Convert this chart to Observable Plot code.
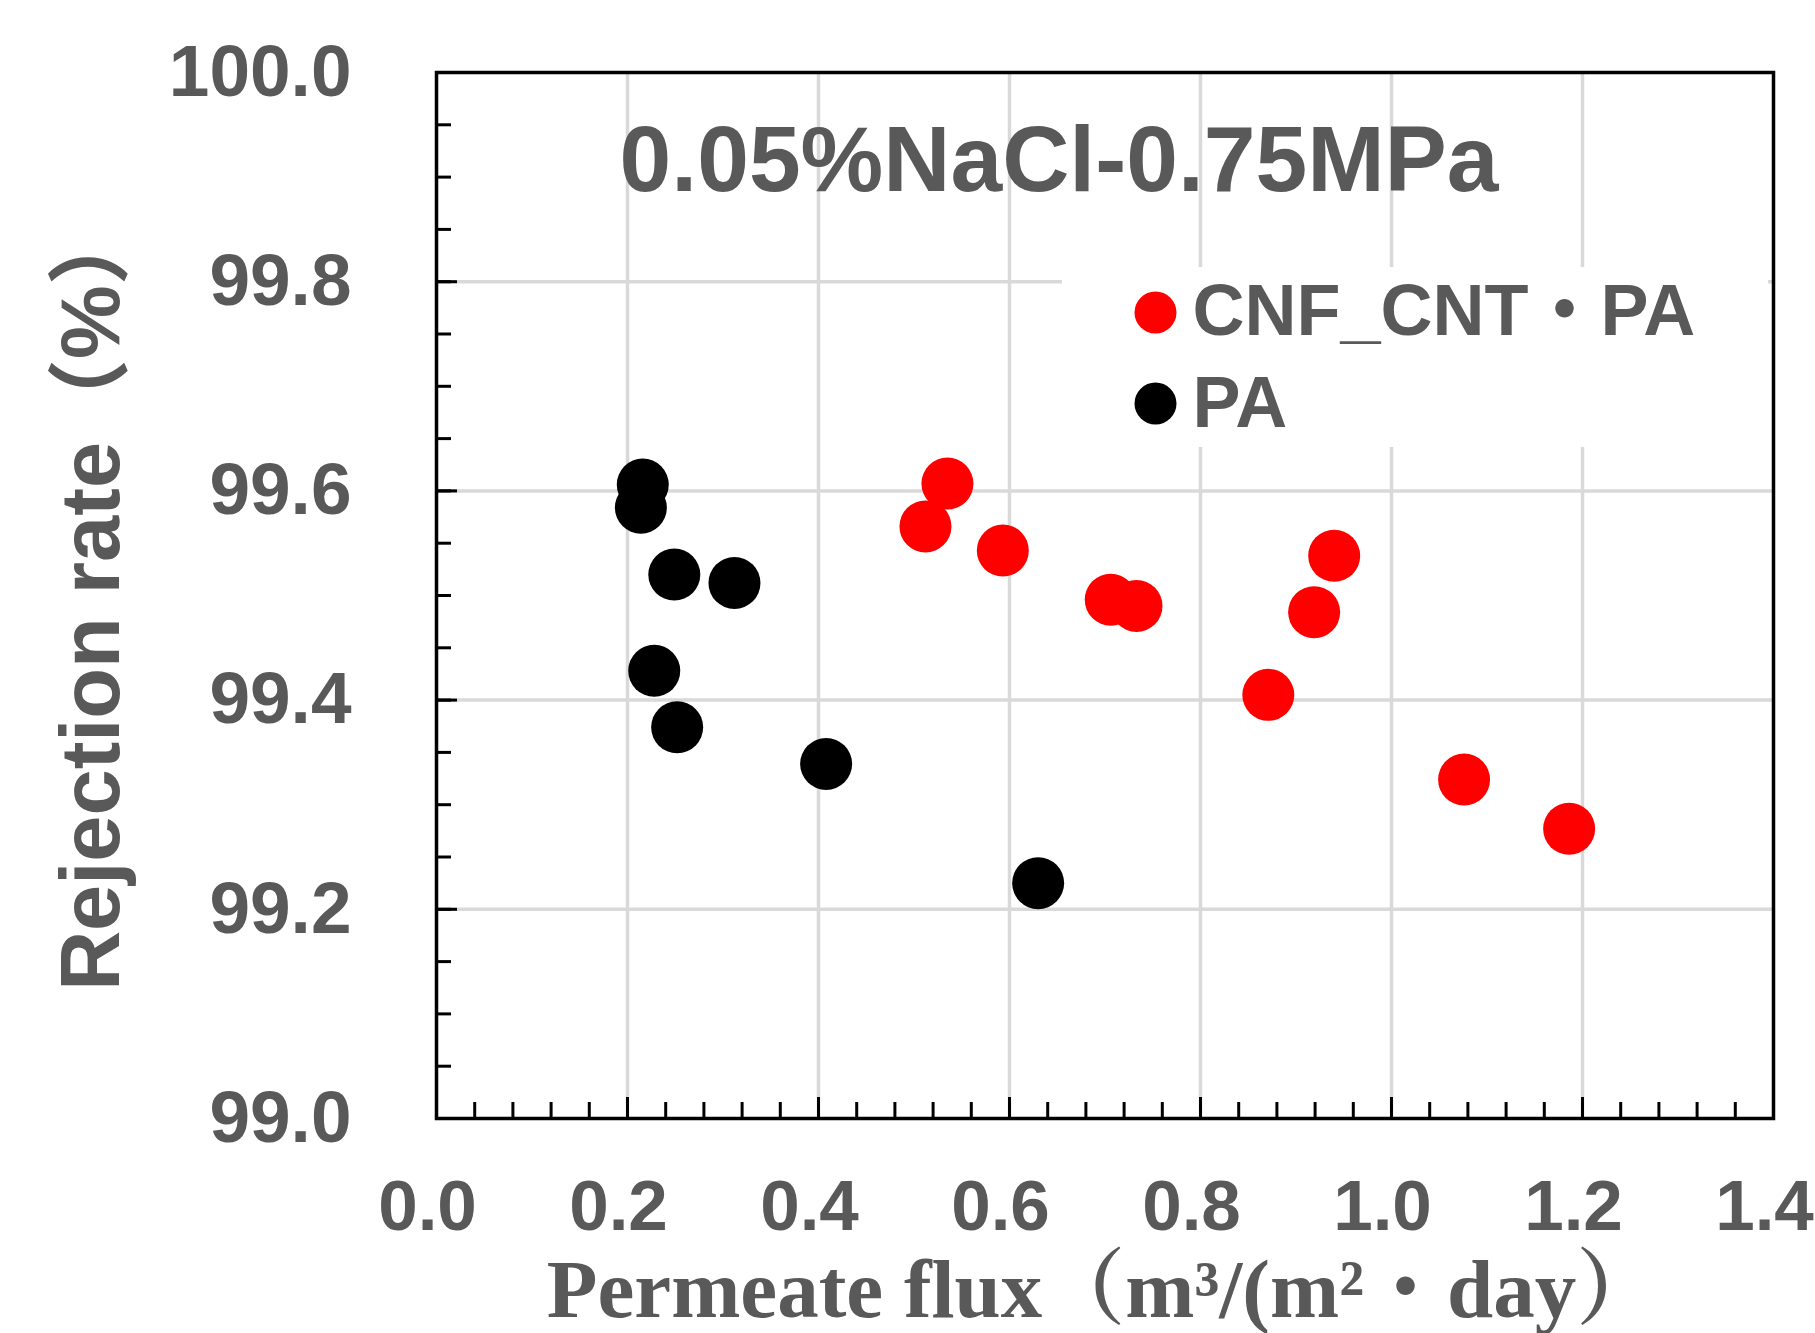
<!DOCTYPE html>
<html>
<head>
<meta charset="utf-8">
<script src="https://cdn.jsdelivr.net/npm/d3@7"></script>
<script src="https://cdn.jsdelivr.net/npm/@observablehq/plot@0.6"></script>
<style>
  html, body { margin: 0; padding: 0; background: #fff; overflow: hidden; }
  #chart svg { display: block; }
</style>
</head>
<body>
<div id="chart"></div>
<script>
// ---- Data ----
const paFlux        = [0.216, 0.214, 0.249, 0.312, 0.228, 0.252, 0.408, 0.630];
const paRejection   = [99.606, 99.584, 99.520, 99.512, 99.428, 99.374, 99.339, 99.225];
const cnfFlux       = [0.535, 0.512, 0.593, 0.706, 0.733, 0.940, 0.919, 0.871, 1.076, 1.186];
const cnfRejection  = [99.607, 99.566, 99.543, 99.496, 99.490, 99.538, 99.484, 99.405, 99.324, 99.277];

const seriesNames   = ["CNF_CNT・PA", "PA"];
const seriesColors  = ["#ff0000", "#000000"];

const xTicks        = [0.0, 0.2, 0.4, 0.6, 0.8, 1.0, 1.2, 1.4];
const yTicks        = [99.0, 99.2, 99.4, 99.6, 99.8, 100.0];
const xGrid         = [0.2, 0.4, 0.6, 0.8, 1.0, 1.2];
const yGrid         = [99.2, 99.4, 99.6, 99.8];
const xMinor        = d3.range(0, 35).map(i => +(i * 0.04).toFixed(2)).filter(v => v > 0 && v < 1.4);
const yMinor        = d3.range(0, 21).map(i => +(99 + i * 0.05).toFixed(2)).filter(v => v > 99 && v < 100);

const titleText     = "0.05%NaCl-0.75MPa";
const xLabel        = "Permeate flux（m³/(m²・day）";
const yLabel        = "Rejection rate（%）";

// ---- Table built from arrays ----
const points = [
  ...cnfFlux.map((x, i) => ({flux: x, rej: cnfRejection[i], series: seriesNames[0]})),
  ...paFlux.map((x, i) => ({flux: x, rej: paRejection[i], series: seriesNames[1]}))
];
const legend = seriesNames.map((name, i) => ({name, color: seriesColors[i]}));

// ---- Layout ----
const W = 1815, H = 1333;
const mL = 436, mR = 42, mT = 72, mB = 215;
const plotW = W - mL - mR, plotH = H - mT - mB;
const gray = "#595959";
const sans = "'Liberation Sans', Arial, 'Noto Sans CJK SC', sans-serif";
const serif = "'Liberation Serif', 'Times New Roman', 'Noto Serif CJK SC', 'Noto Sans CJK SC', serif";

// legend background (white box hiding gridlines)
const legendBox = (index, scales, values, dimensions) => {
  const g = d3.create("svg:g");
  g.append("rect")
    .attr("x", dimensions.marginLeft + 626)
    .attr("y", dimensions.marginTop + 195)
    .attr("width", plotW - 626 - 5)
    .attr("height", 180)
    .attr("fill", "white");
  return g.node();
};

const legendMarks = legend.flatMap((d, i) => [
  Plot.dot([d], {frameAnchor: "top-left", dx: 719, dy: 240 + i * 91, r: 21, fill: d => d.color, stroke: null}),
  Plot.text([d], {frameAnchor: "top-left", dx: 756, dy: 211 + i * 92, text: d => d.name, textAnchor: "start",
    lineAnchor: "top", fontSize: 72, fontWeight: "bold", fill: gray, fontFamily: sans})
]);

const chart = Plot.plot({
  width: W, height: H,
  marginLeft: mL, marginRight: mR, marginTop: mT, marginBottom: mB,
  x: {domain: [0, 1.4], axis: null},
  y: {domain: [99, 100], axis: null},
  color: {domain: seriesNames, range: seriesColors},
  style: {background: "white", overflow: "visible"},
  marks: [
    Plot.ruleX(xGrid, {x: d => d, stroke: "#d9d9d9", strokeWidth: 3.5}),
    Plot.ruleY(yGrid, {y: d => d, stroke: "#d9d9d9", strokeWidth: 3.5}),
    // title
    Plot.text([titleText], {frameAnchor: "top", dx: -46, dy: 52, text: d => d, lineAnchor: "top", textAnchor: "middle",
      fontSize: 93, fontWeight: "bold", fill: gray, fontFamily: sans}),
    legendBox,
    ...legendMarks,
    // minor & major ticks (inside)
    Plot.tickX(xMinor, {x: d => d, stroke: "black", strokeWidth: 3, insetTop: plotH - 16}),
    Plot.tickX(xTicks, {x: d => d, stroke: "black", strokeWidth: 3, insetTop: plotH - 21}),
    Plot.tickY(yMinor, {y: d => d, stroke: "black", strokeWidth: 3, insetRight: plotW - 15}),
    Plot.tickY(yTicks, {y: d => d, stroke: "black", strokeWidth: 3, insetRight: plotW - 21}),
    Plot.frame({stroke: "black", strokeWidth: 3.5}),
    // tick labels
    Plot.text(xTicks, {x: d => d, frameAnchor: "bottom", dx: -9, dy: 61, lineAnchor: "top", textAnchor: "middle",
      text: d => d.toFixed(1), fontSize: 71, fontWeight: "bold", fill: gray, fontFamily: sans}),
    Plot.text(yTicks, {y: d => d, frameAnchor: "left", dx: -85, textAnchor: "end", lineAnchor: "middle",
      text: d => d.toFixed(1), fontSize: 73, fontWeight: "bold", fill: gray, fontFamily: sans}),
    // axis titles
    Plot.text([xLabel], {frameAnchor: "bottom", dx: -2, dy: 140, lineAnchor: "top", textAnchor: "middle", text: d => d,
      fontSize: 83, fontWeight: "bold", fill: gray, fontFamily: serif}),
    Plot.text([yLabel], {frameAnchor: "left", dx: -344, dy: 1, rotate: -90, lineAnchor: "middle", textAnchor: "middle",
      text: d => d, fontSize: 83, fontWeight: "bold", fill: gray, fontFamily: sans}),
    // data
    Plot.dot(points, {x: "flux", y: "rej", fill: "series", r: 26, stroke: null})
  ]
});
document.getElementById("chart").appendChild(chart);
</script>
</body>
</html>
